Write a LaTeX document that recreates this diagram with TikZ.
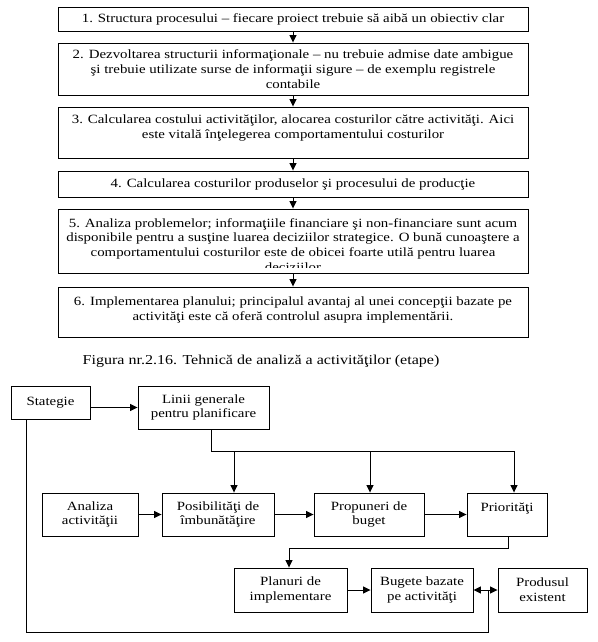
\documentclass[tikz,border=0pt]{standalone}
\usepackage{fontspec}
\setmainfont{Liberation Serif}[FakeStretch=1.18]
\usetikzlibrary{arrows.meta}
\begin{document}
\begin{tikzpicture}[x=1pt,y=-1pt,
  every node/.style={font=\fontsize{12.6}{14.7}\selectfont, align=center, text=black},
  box/.style={draw=black, line width=0.9pt, inner sep=0pt},
  txt/.style={inner sep=0pt, anchor=north},
  conn/.style={line width=0.9pt, draw=black},
  arr/.style={conn, -{Triangle[length=7.5pt,width=7pt]}},
  darr/.style={conn, {Triangle[length=7.5pt,width=7pt]}-{Triangle[length=7.5pt,width=7pt]}}
]
\useasboundingbox (0,0) rectangle (597,642);
\fill[white] (0,0) rectangle (597,642);

% ---- top flow ----
\node[box, minimum width=470pt, minimum height=24pt] (b1) at (293,19)
  {1. Structura procesului – fiecare proiect trebuie să aibă un obiectiv clar};
\node[box, minimum width=470pt, minimum height=52pt] (b2) at (293,69)
  {2. Dezvoltarea structurii informaţionale – nu trebuie admise date ambigue\\
   şi trebuie utilizate surse de informaţii sigure – de exemplu registrele\\
   contabile};
\node[box, minimum width=470pt, minimum height=51pt] (b3) at (293,132.5) {};
\node[txt] (t3) at (293,115)
  {3. Calcularea costului activităţilor, alocarea costurilor către activităţi. Aici\\
   este vitală înţelegerea comportamentului costurilor};
\node[box, minimum width=470pt, minimum height=26pt] (b4) at (293,184)
  {4. Calcularea costurilor produselor şi procesului de producţie};
\node[box, minimum width=470pt, minimum height=64pt] (b5) at (293,241) {};
\begin{scope}
  \clip (59,210) rectangle (527,267.5);
  \node[txt] (t5) at (293,218)
    {5. Analiza problemelor; informaţiile financiare şi non-financiare sunt acum\\
     disponibile pentru a susţine luarea deciziilor strategice. O bună cunoaştere a\\
     comportamentului costurilor este de obicei foarte utilă pentru luarea\\
     deciziilor};
\end{scope}
\node[box, minimum width=470pt, minimum height=50pt] (b6) at (293,312) {};
\node[txt] (t6) at (293,296.5)
  {6. Implementarea planului; principalul avantaj al unei concepţii bazate pe\\
   activităţi este că oferă controlul asupra implementării.};

\draw[arr] (b1.south) -- (b2.north);
\draw[arr] (b2.south) -- (b3.north);
\draw[arr] (b3.south) -- (b4.north);
\draw[arr] (b4.south) -- (b5.north);
\draw[arr] (b5.south) -- (b6.north);

\node[font=\fontsize{13.6}{16}\selectfont] (cap) at (261,361)
  {Figura nr.2.16. Tehnică de analiză a activităţilor (etape)};

% ---- lower diagram ----
\node[box, minimum width=79pt, minimum height=33pt] (S) at (50.5,402.5) {Stategie};
\node[box, minimum width=131pt, minimum height=43pt] (L) at (203.5,407.5)
  {Linii generale\\pentru planificare};
\node[box, minimum width=96pt, minimum height=43pt] (A) at (90,514.5)
  {Analiza\\activităţii};
\node[box, minimum width=112pt, minimum height=43pt] (P) at (218,514.5)
  {Posibilităţi de\\îmbunătăţire};
\node[box, minimum width=110pt, minimum height=43pt] (R) at (369,514.5)
  {Propuneri de\\buget};
\node[box, minimum width=80pt, minimum height=43pt] (T) at (507,514.5) {};
\node[txt] (tT) at (507,502.5) {Priorităţi};
\node[box, minimum width=113pt, minimum height=44pt] (N) at (290.5,590)
  {Planuri de\\implementare};
\node[box, minimum width=102pt, minimum height=44pt] (B) at (422,590)
  {Bugete bazate\\pe activităţi};
\node[box, minimum width=89pt, minimum height=44pt] (D) at (542.5,590)
  {Produsul\\existent};

\coordinate (lj) at (211,451);
\coordinate (j1) at (234,451);
\coordinate (j2) at (370,451);
\coordinate (j3) at (514,451);
\coordinate (t1) at (508,548);
\coordinate (t2) at (289,548);
\coordinate (q1) at (26,632);
\coordinate (q2) at (488,632);

\draw[arr] (S.east |- L.west) -- (L.west);
\draw[arr] (L.south -| lj) -- (lj) -- (j3) -- (j3 |- T.north);
\draw[arr] (j1) -- (j1 |- P.north);
\draw[arr] (j2) -- (j2 |- R.north);
\draw[arr] (A.east) -- (P.west);
\draw[arr] (P.east) -- (R.west);
\draw[arr] (R.east) -- (T.west);
\draw[arr] (T.south -| t1) -- (t1) -- (t2) -- (t2 |- N.north);
\draw[arr] (N.east) -- (B.west);
\draw[darr] (B.east) -- (D.west);
\draw[conn] (S.south -| q1) -- (q1) -- (q2) -- (q2 |- B.east);
\end{tikzpicture}
\end{document}
